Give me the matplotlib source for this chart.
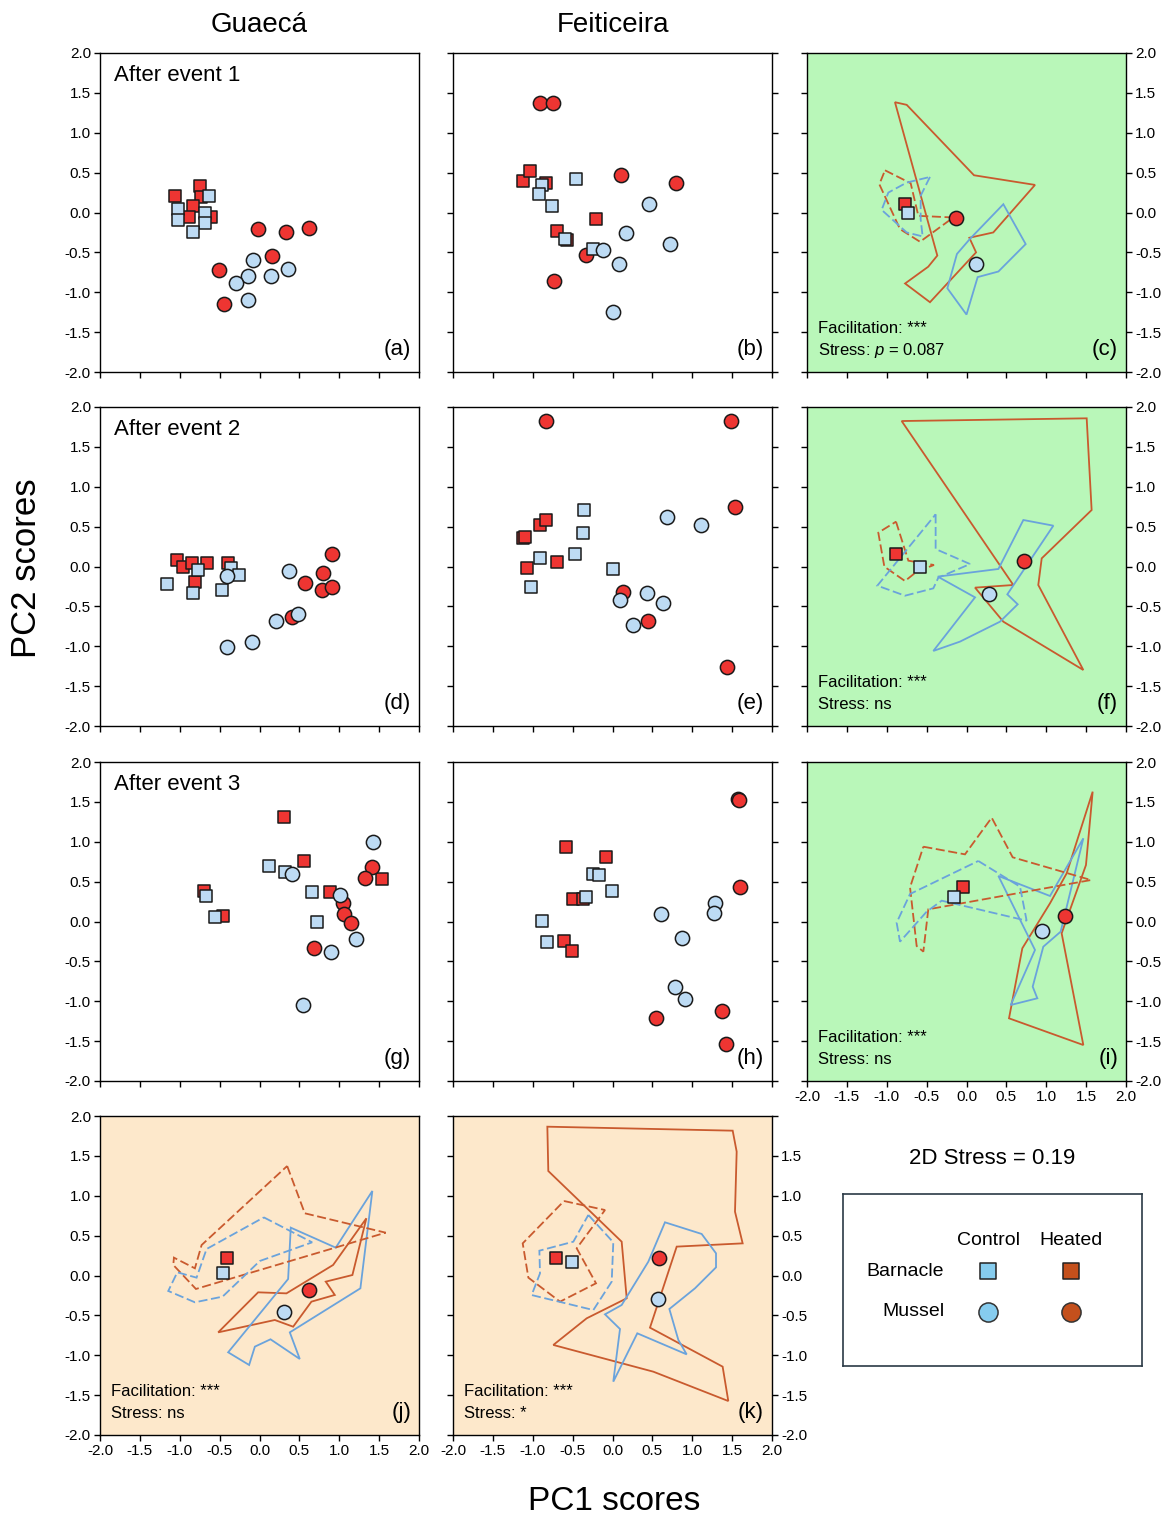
import matplotlib
matplotlib.use("Agg")
import matplotlib.pyplot as plt
from matplotlib.patches import Polygon
from matplotlib.ticker import FixedLocator, FuncFormatter

plt.rcParams["font.family"] = ["Liberation Sans", "DejaVu Sans"]
plt.rcParams["axes.unicode_minus"] = False
plt.rcParams["mathtext.fontset"] = "custom"
plt.rcParams["mathtext.it"] = "Liberation Sans:italic"
plt.rcParams["mathtext.rm"] = "Liberation Sans"

# ---- replicate scores, one list of (PC1, PC2) per group and panel ----
a_barn_ctrl = [(-0.63, 0.21), (-1.02, 0.04), (-1.02, -0.10), (-0.68, 0.0), (-0.68, -0.13), (-0.84, -0.25)]
a_barn_heat = [(-1.06, 0.21), (-0.74, 0.33), (-0.73, 0.19), (-0.83, 0.08), (-0.89, -0.06), (-0.61, -0.06)]
a_mus_ctrl = [(-0.08, -0.59), (-0.15, -0.80), (-0.29, -0.89), (-0.15, -1.10), (0.15, -0.80), (0.36, -0.71)]
a_mus_heat = [(-0.02, -0.21), (0.33, -0.24), (0.62, -0.20), (0.16, -0.55), (-0.51, -0.72), (-0.45, -1.15)]

b_barn_ctrl = [(-0.89, 0.34), (-0.92, 0.23), (-0.76, 0.08), (-0.46, 0.42), (-0.59, -0.33), (-0.24, -0.46)]
b_barn_heat = [(-1.12, 0.40), (-1.03, 0.52), (-0.83, 0.375), (-0.70, -0.23), (-0.21, -0.08), (-0.57, -0.35)]
b_mus_ctrl = [(-0.12, -0.47), (0.17, -0.26), (0.46, 0.11), (0.72, -0.39), (0.08, -0.64), (0.0, -1.25)]
b_mus_heat = [(-0.91, 1.375), (-0.74, 1.375), (0.107, 0.47), (0.79, 0.375), (-0.33, -0.53), (-0.73, -0.86)]

d_barn_ctrl = [(-1.165, -0.224), (-0.831, -0.336), (-0.777, -0.044), (-0.468, -0.295), (-0.363, -0.023), (-0.26, -0.107)]
d_barn_heat = [(-1.04, 0.081), (-0.965, -0.002), (-0.843, 0.04), (-0.664, 0.04), (-0.40, 0.04), (-0.81, -0.19)]
d_mus_ctrl = [(-0.413, -0.119), (0.372, -0.052), (0.484, -0.596), (0.205, -0.679), (-0.092, -0.943), (-0.405, -1.014)]
d_mus_heat = [(0.914, 0.157), (0.797, -0.077), (0.568, -0.211), (0.785, -0.295), (0.91, -0.261), (0.409, -0.629)]

e_barn_ctrl = [(-0.357, 0.708), (-0.374, 0.416), (-0.47, 0.157), (-0.909, 0.102), (-1.022, -0.261), (0.0, -0.035)]
e_barn_heat = [(-1.118, 0.353), (-1.10, 0.37), (-0.909, 0.52), (-0.834, 0.583), (-1.068, -0.015), (-0.692, 0.06)]
e_mus_ctrl = [(0.679, 0.625), (1.11, 0.52), (0.094, -0.42), (0.428, -0.328), (0.629, -0.462), (0.261, -0.733)]
e_mus_heat = [(-0.834, 1.829), (1.482, 1.824), (1.536, 0.741), (0.136, -0.316), (0.449, -0.683), (1.432, -1.264)]

g_barn_ctrl = [(0.117, 0.70), (0.317, 0.625), (0.664, 0.374), (0.722, -0.01), (-0.676, 0.324), (-0.56, 0.052)]
g_barn_heat = [(0.309, 1.314), (0.559, 0.763), (0.889, 0.374), (1.541, 0.533), (-0.697, 0.387), (-0.455, 0.073)]
g_mus_ctrl = [(1.424, 0.993), (0.409, 0.591), (1.006, 0.332), (1.215, -0.219), (0.894, -0.387), (0.547, -1.047)]
g_mus_heat = [(1.411, 0.688), (1.319, 0.55), (1.048, 0.236), (1.056, 0.09), (1.152, -0.023), (0.68, -0.336)]

h_barn_ctrl = [(-0.249, 0.596), (-0.165, 0.583), (-0.336, 0.303), (-0.01, 0.382), (-0.888, 0.01), (-0.817, -0.261)]
h_barn_heat = [(-0.583, 0.938), (-0.082, 0.805), (-0.491, 0.278), (-0.374, 0.278), (-0.608, -0.24), (-0.512, -0.366)]
h_mus_ctrl = [(0.608, 0.09), (0.867, -0.203), (1.285, 0.236), (1.273, 0.102), (0.784, -0.825), (0.909, -0.976)]
h_mus_heat = [(1.57, 1.53), (1.586, 1.524), (1.599, 0.437), (0.545, -1.214), (1.377, -1.118), (1.423, -1.536)]

# ---- group centroids (barnacle ctrl, barnacle heated, mussel ctrl, mussel heated) ----
c_centroids = [(-0.73, 0.0), (-0.77, 0.11), (0.12, -0.65), (-0.13, -0.075)]
f_centroids = [(-0.583, -0.01), (-0.884, 0.157), (0.282, -0.349), (0.725, 0.069)]
i_centroids = [(-0.153, 0.303), (-0.04, 0.428), (0.951, -0.115), (1.235, 0.069)]
j_centroids = [(-0.455, 0.036), (-0.405, 0.224), (0.305, -0.453), (0.622, -0.182)]
k_centroids = [(-0.512, 0.165), (-0.708, 0.224), (0.575, -0.295), (0.583, 0.215)]

# ---- group outlines ----
c_hull_barn_ctrl = [(-0.458, 0.446), (-0.575, 0.21), (-0.575, -0.083), (-0.55, -0.30), (-0.75, -0.25),
                    (-1.064, 0.033), (-0.98, 0.25), (-0.75, 0.375)]
c_hull_barn_heat = [(-1.022, 0.529), (-0.70, 0.367), (-0.604, -0.042), (-0.165, -0.0625), (-0.583, -0.367),
                    (-0.834, -0.208), (-1.093, 0.354)]
c_hull_mus_ctrl = [(0.462, 0.104), (0.742, -0.396), (0.40, -0.74), (0.14, -0.81), (0.0, -1.28),
                   (-0.24, -0.95), (-0.12, -0.52), (0.044, -0.33)]
c_hull_mus_heat = [(-0.897, 1.383), (-0.75, 1.35), (0.094, 0.467), (0.859, 0.346), (0.336, -0.25),
                   (0.036, -0.317), (0.12, -0.5), (-0.458, -1.125), (-0.77, -0.89), (-0.48, -0.68),
                   (-0.366, -0.54)]

f_hull_barn_ctrl = [(-0.387, 0.654), (-0.387, 0.219), (0.044, 0.031), (-0.353, -0.14), (-0.416, -0.274),
                    (-0.771, -0.366), (-1.118, -0.24)]
f_hull_barn_heat = [(-0.884, 0.562), (-0.729, 0.073), (-0.408, 0.019), (-0.625, -0.065), (-0.771, -0.182),
                    (-1.03, -0.002), (-1.106, 0.424)]
f_hull_mus_ctrl = [(0.713, 0.583), (1.089, 0.512), (0.512, -0.349), (0.642, -0.474), (0.42, -0.692),
                   (-0.082, -0.942), (-0.416, -1.059), (0.107, -0.387), (-0.36, -0.127), (0.40, -0.031)]
f_hull_mus_heat = [(-0.813, 1.824), (1.507, 1.858), (1.569, 0.708), (0.943, 0.102), (0.90, -0.232),
                   (1.465, -1.298), (0.462, -0.692), (0.107, -0.265), (0.587, -0.232)]

i_hull_barn_ctrl = [(0.148, 0.759), (0.671, 0.437), (0.754, 0.01), (-0.311, 0.261), (-0.50, 0.123),
                    (-0.834, -0.253), (-0.876, -0.015), (-0.708, 0.345)]
i_hull_barn_heat = [(-0.541, 0.938), (-0.019, 0.842), (0.316, 1.302), (0.579, 0.805), (1.561, 0.52),
                    (-0.479, 0.153), (-0.541, -0.378), (-0.625, -0.307), (-0.708, 0.428)]
i_hull_mus_ctrl = [(1.465, 1.043), (1.181, -0.127), (0.963, -0.316), (0.83, -0.817), (0.888, -0.963),
                   (0.554, -1.047), (0.859, -0.357), (0.40, 0.571), (1.047, 0.32)]
i_hull_mus_heat = [(1.582, 1.628), (1.498, 0.708), (1.193, -0.148), (1.465, -1.549), (0.533, -1.214),
                   (0.70, -0.336), (1.047, 0.228), (1.256, 0.604)]

j_hull_barn_ctrl = [(0.054, 0.729), (0.66, 0.416), (0.004, 0.182), (-0.463, -0.265), (-0.81, -0.336),
                    (-1.144, -0.194), (-1.031, 0.04), (-0.789, -0.027), (-0.664, 0.332)]
j_hull_barn_heat = [(0.347, 1.373), (0.568, 0.78), (1.582, 0.537), (-0.797, -0.169), (-1.081, 0.132),
                    (-1.073, 0.224), (-0.81, 0.09), (-0.726, 0.382)]
j_hull_mus_ctrl = [(1.415, 1.06), (1.265, -0.161), (0.38, -0.713), (0.505, -1.047), (0.138, -0.80),
                   (-0.058, -0.892), (-0.13, -1.122), (-0.393, -0.963), (0.359, -0.044), (0.392, 0.60),
                   (0.956, 0.349)]
j_hull_mus_heat = [(1.34, 0.717), (1.165, 0.006), (0.831, -0.077), (0.944, -0.244), (0.651, -0.328),
                   (0.422, -0.642), (0.192, -0.558), (-0.518, -0.713), (-0.017, -0.211), (0.338, -0.224),
                   (0.923, 0.132)]

k_hull_barn_ctrl = [(-0.303, 0.759), (0.01, 0.416), (-0.01, -0.077), (-0.24, -0.433), (-1.014, -0.245),
                    (-0.909, 0.027), (-0.917, 0.311), (-0.491, 0.424)]
k_hull_barn_heat = [(-0.608, 0.934), (-0.094, 0.821), (-0.449, 0.341), (-0.207, -0.098), (-0.658, -0.328),
                    (-1.055, -0.027), (-1.126, 0.403)]
k_hull_mus_ctrl = [(0.658, 0.667), (1.118, 0.521), (1.298, 0.278), (1.298, 0.102), (1.034, -0.161),
                   (0.713, -0.42), (0.826, -0.809), (0.93, -0.989), (0.311, -0.725), (0.01, -1.331),
                   (0.094, -0.671), (-0.094, -0.487), (0.115, -0.37), (0.449, 0.173)]
k_hull_mus_heat = [(-0.817, 1.866), (1.507, 1.816), (1.557, 1.553), (1.536, 0.80), (1.632, 0.403),
                   (0.805, 0.362), (0.47, -0.654), (1.381, -1.143), (1.452, -1.574), (0.512, -1.206),
                   (-0.742, -0.871), (-0.324, -0.537), (0.178, -0.286), (0.115, 0.424), (-0.805, 1.31)]

event_labels = ["After event 1", "After event 2", "After event 3"]
site_names = ["Guaecá", "Feiticeira"]
stress_notes = {"c": "Stress: $p$ = 0.087", "f": "Stress: ns", "i": "Stress: ns",
                "j": "Stress: ns", "k": "Stress: *"}
ticks = [-2.0, -1.5, -1.0, -0.5, 0.0, 0.5, 1.0, 1.5, 2.0]

RED = "#ee3532"
PALE_BLUE = "#bddbf4"
LINE_RED = "#c95a2e"
LINE_BLUE = "#6aa3dc"
GREEN_BG = "#b9f7b9"
PEACH_BG = "#fde8cb"
DASH = (0, (5, 2))

W, H = 1172, 1519
fig = plt.figure(figsize=(W / 100, H / 100), dpi=100)

col_left = [100, 453, 807]
row_top = [53, 407, 762, 1116]
SIDE = 319


def make_axes(col, row, bg="white"):
    ax = fig.add_axes([col_left[col] / W, 1 - (row_top[row] + SIDE) / H, SIDE / W, SIDE / H])
    ax.set_xlim(-2, 2)
    ax.set_ylim(-2, 2)
    ax.set_facecolor(bg)
    ax.xaxis.set_major_locator(FixedLocator(ticks))
    ax.yaxis.set_major_locator(FixedLocator(ticks))
    ax.tick_params(direction="out", length=4.5, width=1.0, labelsize=11, pad=2,
                   bottom=True, labelbottom=False, left=True, labelleft=False,
                   right=False, labelright=False, top=False)
    ax.xaxis.set_major_formatter(FuncFormatter(lambda v, p: f"{v:.1f}"))
    ax.yaxis.set_major_formatter(FuncFormatter(lambda v, p: f"{v:.1f}"))
    for sp in ax.spines.values():
        sp.set_linewidth(1.0)
    return ax


def scatter_groups(ax, barn_ctrl, barn_heat, mus_ctrl, mus_heat):
    for pts, marker, color, size in [(barn_heat, "s", RED, 80), (mus_heat, "o", RED, 105),
                                     (barn_ctrl, "s", PALE_BLUE, 80), (mus_ctrl, "o", PALE_BLUE, 105)]:
        xs = [p[0] for p in pts]
        ys = [p[1] for p in pts]
        ax.scatter(xs, ys, marker=marker, s=size, c=color, edgecolors="#1a1a1a",
                   linewidths=1.1, zorder=3)


def draw_hulls(ax, barn_ctrl, barn_heat, mus_ctrl, mus_heat):
    for pts, color, ls in [(mus_heat, LINE_RED, "-"), (mus_ctrl, LINE_BLUE, "-"),
                           (barn_heat, LINE_RED, DASH), (barn_ctrl, LINE_BLUE, DASH)]:
        ax.add_patch(Polygon(pts, closed=True, fill=False, edgecolor=color,
                             linewidth=1.3, linestyle=ls, zorder=2))


def letter(ax, key):
    ax.text(0.975, 0.072, f"({key})", transform=ax.transAxes, ha="right", va="center", fontsize=16)


def notes(ax, key):
    ax.text(0.035, 0.135, "Facilitation: ***", transform=ax.transAxes, ha="left", va="center", fontsize=12)
    ax.text(0.035, 0.066, stress_notes[key], transform=ax.transAxes, ha="left", va="center", fontsize=12)


scatter_sets = [
    (0, 0, "a", a_barn_ctrl, a_barn_heat, a_mus_ctrl, a_mus_heat),
    (1, 0, "b", b_barn_ctrl, b_barn_heat, b_mus_ctrl, b_mus_heat),
    (0, 1, "d", d_barn_ctrl, d_barn_heat, d_mus_ctrl, d_mus_heat),
    (1, 1, "e", e_barn_ctrl, e_barn_heat, e_mus_ctrl, e_mus_heat),
    (0, 2, "g", g_barn_ctrl, g_barn_heat, g_mus_ctrl, g_mus_heat),
    (1, 2, "h", h_barn_ctrl, h_barn_heat, h_mus_ctrl, h_mus_heat),
]

for col, row, key, bc, bh, mc, mh in scatter_sets:
    ax = make_axes(col, row)
    scatter_groups(ax, bc, bh, mc, mh)
    letter(ax, key)
    if col == 0:
        ax.tick_params(labelleft=True)
        ax.text(0.044, 0.931, event_labels[row], transform=ax.transAxes, ha="left", va="center", fontsize=16)
    else:
        ax.tick_params(right=True)

centroid_sets = [
    (2, 0, "c", GREEN_BG, c_centroids, c_hull_barn_ctrl, c_hull_barn_heat, c_hull_mus_ctrl, c_hull_mus_heat),
    (2, 1, "f", GREEN_BG, f_centroids, f_hull_barn_ctrl, f_hull_barn_heat, f_hull_mus_ctrl, f_hull_mus_heat),
    (2, 2, "i", GREEN_BG, i_centroids, i_hull_barn_ctrl, i_hull_barn_heat, i_hull_mus_ctrl, i_hull_mus_heat),
    (0, 3, "j", PEACH_BG, j_centroids, j_hull_barn_ctrl, j_hull_barn_heat, j_hull_mus_ctrl, j_hull_mus_heat),
    (1, 3, "k", PEACH_BG, k_centroids, k_hull_barn_ctrl, k_hull_barn_heat, k_hull_mus_ctrl, k_hull_mus_heat),
]

for col, row, key, bg, cents, hbc, hbh, hmc, hmh in centroid_sets:
    ax = make_axes(col, row, bg)
    draw_hulls(ax, hbc, hbh, hmc, hmh)
    scatter_groups(ax, [cents[0]], [cents[1]], [cents[2]], [cents[3]])
    letter(ax, key)
    notes(ax, key)
    if col == 2:
        ax.tick_params(right=True, labelright=True)
        if row == 2:
            ax.tick_params(labelbottom=True)
    elif col == 0:
        ax.tick_params(labelleft=True, labelbottom=True)
    else:
        ax.tick_params(right=True, labelright=True, labelbottom=True)
        ax.yaxis.set_major_formatter(FuncFormatter(lambda v, p: "" if v >= 2.0 else f"{v:.1f}"))

# column headings and shared axis titles
fig.text(259 / W, 1 - 25 / H, site_names[0], ha="center", va="center", fontsize=20)
fig.text(613 / W, 1 - 25 / H, site_names[1], ha="center", va="center", fontsize=20)
fig.text(27 / W, 1 - 568 / H, "PC2 scores", ha="center", va="center", fontsize=25, rotation=90)
fig.text(614 / W, 1 - 1501 / H, "PC1 scores", ha="center", va="center", fontsize=24)
fig.text(992 / W, 1 - 1158 / H, "2D Stress = 0.19", ha="center", va="center", fontsize=16)

# key box
lx0, ly0, lw, lh = 843, 1194, 299, 172
leg = fig.add_axes([lx0 / W, 1 - (ly0 + lh) / H, lw / W, lh / H])
leg.set_xlim(0, 1)
leg.set_ylim(0, 1)
leg.set_xticks([])
leg.set_yticks([])
for sp in leg.spines.values():
    sp.set_edgecolor("#2b3a45")
    sp.set_linewidth(1.2)
leg.text(0.485, 0.727, "Control", ha="center", va="center", fontsize=14)
leg.text(0.763, 0.727, "Heated", ha="center", va="center", fontsize=14)
leg.text(0.338, 0.552, "Barnacle", ha="right", va="center", fontsize=14)
leg.text(0.338, 0.314, "Mussel", ha="right", va="center", fontsize=14)
leg.scatter([0.485], [0.552], marker="s", s=140, c="#86ccee", edgecolors="#222222", linewidths=1.1)
leg.scatter([0.763], [0.552], marker="s", s=140, c="#c4501c", edgecolors="#222222", linewidths=1.1)
leg.scatter([0.485], [0.314], marker="o", s=190, c="#86ccee", edgecolors="#333333", linewidths=1.1)
leg.scatter([0.763], [0.314], marker="o", s=190, c="#c4501c", edgecolors="#333333", linewidths=1.1)

fig.savefig("out.png", dpi=100)
